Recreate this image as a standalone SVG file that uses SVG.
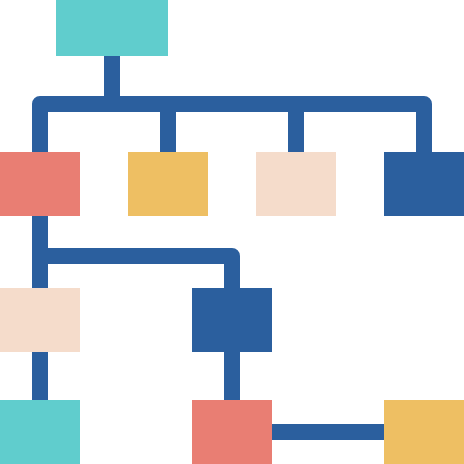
<svg xmlns="http://www.w3.org/2000/svg" width="464" height="464" viewBox="0 0 464 464">
<style>
.c{fill:none;stroke:#2B5F9E;stroke-width:16;stroke-linejoin:round;stroke-linecap:butt}
.teal{fill:#60CDCD}.blue{fill:#2B5F9E}.coral{fill:#E97E73}.yellow{fill:#EEBF63}.peach{fill:#F5DCCB}
</style>
<g id="connectors">
<path class="c" d="M112 56V104"/>
<path class="c" d="M40 152V104H424V152"/>
<path class="c" d="M168 104V152"/>
<path class="c" d="M296 104V152"/>
<path class="c" d="M40 216V288"/>
<path class="c" d="M40 256H232V288"/>
<path class="c" d="M40 352V400"/>
<path class="c" d="M232 352V400"/>
<path class="c" d="M272 432H384"/>
</g>
<g id="root"><rect class="teal" x="56" y="0" width="112" height="56"/></g>
<g id="n1"><rect class="coral" x="0" y="152" width="80" height="64"/></g>
<g id="n2"><rect class="yellow" x="128" y="152" width="80" height="64"/></g>
<g id="n3"><rect class="peach" x="256" y="152" width="80" height="64"/></g>
<g id="n4"><rect class="blue" x="384" y="152" width="80" height="64"/></g>
<g id="n5"><rect class="peach" x="0" y="288" width="80" height="64"/></g>
<g id="n6"><rect class="blue" x="192" y="288" width="80" height="64"/></g>
<g id="n7"><rect class="teal" x="0" y="400" width="80" height="64"/></g>
<g id="n8"><rect class="coral" x="192" y="400" width="80" height="64"/></g>
<g id="n9"><rect class="yellow" x="384" y="400" width="80" height="64"/></g>
</svg>
